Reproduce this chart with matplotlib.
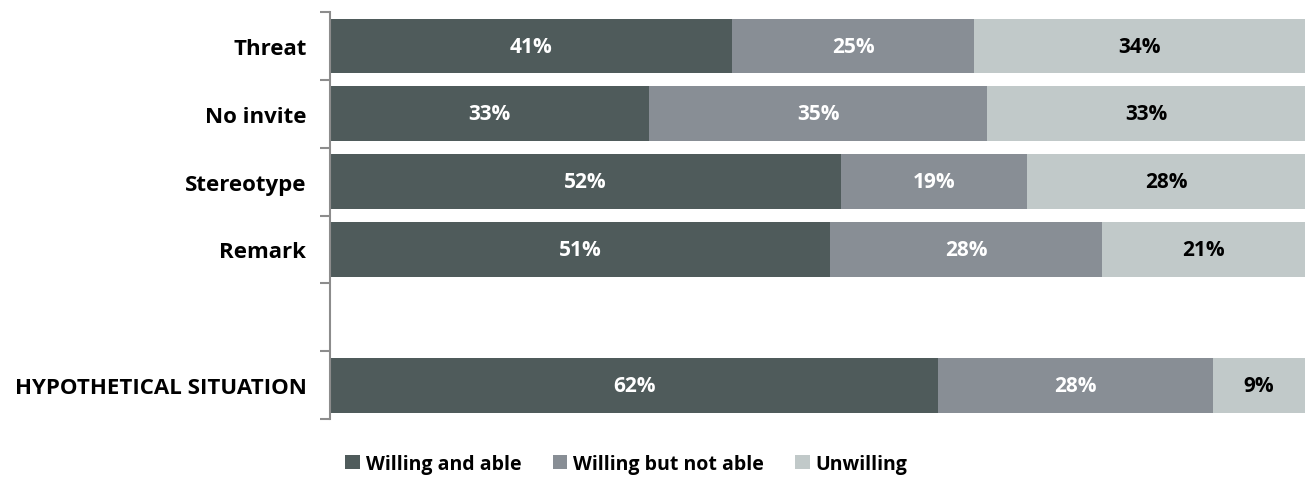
import numpy as np
import matplotlib
matplotlib.use("Agg")
import matplotlib.pyplot as plt
from matplotlib.patches import Patch

# categories (blank row between Remark and the hypothetical bar)
categories = ["Threat", "No invite", "Stereotype", "Remark", "", "HYPOTHETICAL SITUATION"]
series = ["Willing and able", "Willing but not able", "Unwilling"]

# percentages
willing_able = [41.2, 32.7, 52.4, 51.3, np.nan, 62.4]
willing_not_able = [24.9, 34.7, 19.1, 27.9, np.nan, 28.2]
unwilling = [33.9, 32.6, 28.5, 20.8, np.nan, 9.4]

colors = ["#4f5b5b", "#888e95", "#c1c9c9"]
text_colors = ["white", "white", "black"]

plt.rcParams["font.family"] = ["Open Sans", "DejaVu Sans"]

fig = plt.figure(figsize=(13.05, 4.85), dpi=100)
ax = fig.add_axes([0.2529, 0.134, 0.7471, 0.839])

y = np.arange(len(categories))
left = np.zeros(len(categories))
for vals, col, tcol, name in zip([willing_able, willing_not_able, unwilling], colors, text_colors, series):
    vals = np.array(vals, dtype=float)
    ax.barh(y, np.nan_to_num(vals), left=left, height=0.81, color=col, label=name)
    for yi, v, l in zip(y, vals, left):
        if not np.isnan(v):
            ax.text(l + v / 2, yi, f"{v:.0f}%", ha="center", va="center",
                    color=tcol, fontsize=15, fontweight="bold")
    left = left + np.nan_to_num(vals)

ax.set_xlim(0, 100)
ax.set_ylim(len(categories) - 0.5, -0.5)
ax.set_xticks([])
ax.set_yticks(y)
ax.set_yticklabels(categories, fontsize=16, fontweight="bold")
ax.tick_params(axis="y", which="major", length=0, pad=17)
ax.set_yticks(np.arange(-0.5, len(categories), 1), minor=True)
ax.tick_params(axis="y", which="minor", length=7, width=1.5, color="#8c8c8c")

for s in ["top", "right", "bottom"]:
    ax.spines[s].set_visible(False)
ax.spines["left"].set_color("#8c8c8c")
ax.spines["left"].set_linewidth(1.5)

handles = [Patch(facecolor=c, label=s) for c, s in zip(colors, series)]
fig.legend(handles=handles, loc="center", bbox_to_anchor=(0.48, 0.042), ncol=3,
           frameon=False, prop={"weight": "bold", "size": 14},
           handlelength=0.75, handleheight=0.75, handletextpad=0.3, columnspacing=1.6)

fig.savefig("out.png", dpi=100)
